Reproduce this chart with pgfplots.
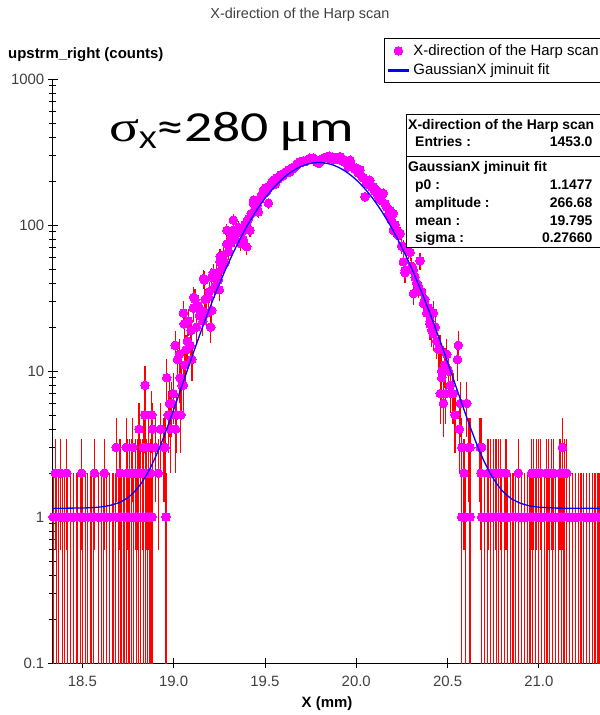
\documentclass[border=0pt]{standalone}
\usepackage{graphicx}
\usepackage{pgfplots}
\pgfplotsset{compat=1.18}
\usepackage{pgfplotstable}
\usepackage{fontspec}
\setmainfont{Liberation Sans}
\newfontfamily\carlito{Carlito}
\newfontfamily\lserif{Liberation Serif}
\definecolor{magpt}{RGB}{255,0,255}
\definecolor{errred}{RGB}{255,0,0}
\definecolor{fitblue}{RGB}{0,0,255}
\definecolor{labgray}{RGB}{64,64,64}
\pgfplotsset{
  dotlegend/.style={legend image code/.code={\draw[##1] plot coordinates {(10.5bp,0bp)};}},
  linelegend/.style={legend image code/.code={\draw[fitblue, line width=3bp] (0bp,0bp) -- (21bp,0bp);}},
}

\pgfplotstableread{
x y e
18.340 1 0.999
18.357 1 0.999
18.371 1 0.999
18.390 1 0.999
18.404 1 0.999
18.420 1 0.999
18.437 1 0.999
18.452 1 0.999
18.470 1 0.999
18.488 1 0.999
18.500 1 0.999
18.515 1 0.999
18.530 1 0.999
18.547 1 0.999
18.560 1 0.999
18.588 1 0.999
18.603 1 0.999
18.617 1 0.999
18.633 1 0.999
18.650 1 0.999
18.668 1 0.999
18.683 1 0.999
18.698 1 0.999
18.712 1 0.999
18.728 1 0.999
18.741 1 0.999
18.755 1 0.999
18.768 1 0.999
18.781 1 0.999
18.795 1 0.999
18.808 1 0.999
18.820 1 0.999
18.833 1 0.999
18.846 1 0.999
18.858 1 0.999
18.870 1 0.999
18.881 1 0.999
18.958 1 0.999
18.352 2 1.41
18.380 2 1.41
18.415 2 1.41
18.497 2 1.41
18.566 2 1.41
18.620 2 1.41
18.706 2 1.41
18.745 2 1.41
18.758 2 1.41
18.770 2 1.41
18.790 2 1.41
18.805 2 1.41
18.818 2 1.41
18.830 2 1.41
18.848 2 1.41
18.862 2 1.41
18.872 2 1.41
18.915 2 1.41
18.685 3 1.73
18.740 3 1.73
18.776 3 1.73
18.834 3 1.73
18.861 3 1.73
18.900 3 1.73
18.945 3 1.73
18.953 3 1.73
18.810 4 2
18.885 4 2
18.930 4 2
18.843 5 2.24
18.880 5 2.24
18.843 8 2.83
18.962 9 3
18.970 5 2.24
18.977 6 2.45
18.984 4 2
18.984 5 2.24
18.990 6 2.45
18.998 7 2.65
19.008 15 3.87
19.010 4 2
19.017 5 2.24
19.020 12 3.46
19.031 13 3.61
19.035 9 3
19.039 5 2.24
19.045 8 2.83
19.053 8 2.83
19.053 25 5
19.058 21 4.58
19.062 11 3.32
19.068 14 3.74
19.075 16 4
19.081 22 4.69
19.090 15 3.87
19.095 19 4.36
19.100 12 3.46
19.108 27 5.2
19.110 32 5.66
19.117 31 5.57
19.125 20 4.47
19.135 28 5.29
19.142 24 4.9
19.154 26 5.1
19.160 22 4.69
19.163 43 6.56
19.168 42 6.48
19.172 31 5.57
19.181 25 5
19.190 32 5.66
19.195 35 5.92
19.203 20 4.47
19.209 26 5.1
19.209 44 6.63
19.217 47 6.86
19.225 38 6.16
19.236 47 6.86
19.245 42 6.48
19.250 36 6
19.254 56 7.48
19.254 61 7.81
19.262 50 7.07
19.272 62 7.87
19.280 55 7.42
19.291 74 8.6
19.291 92 9.59
19.300 66 8.12
19.309 75 8.66
19.315 82 9.06
19.327 92 9.59
19.327 108 10.39
19.335 80 8.94
19.346 92 9.59
19.355 96 9.8
19.364 75 8.66
19.370 88 9.38
19.382 79 8.89
19.390 100 10
19.396 98 9.9
19.400 71 8.43
19.400 105 10.25
19.408 110 10.49
19.418 92 9.59
19.425 120 10.95
19.437 141 11.87
19.437 148 12.17
19.445 128 11.31
19.455 135 11.62
19.464 123 11.09
19.472 150 12.25
19.480 160 12.65
19.491 173 13.15
19.498 165 12.85
19.505 180 13.42
19.512 172 13.11
19.519 141 11.87
19.528 185 13.6
19.536 195 13.96
19.546 203 14.25
19.555 190 13.78
19.563 210 14.49
19.572 205 14.32
19.583 220 14.83
19.592 215 14.66
19.601 220 14.83
19.610 230 15.17
19.620 228 15.1
19.628 238 15.43
19.637 231 15.2
19.646 245 15.65
19.656 244 15.62
19.664 250 15.81
19.672 258 16.06
19.680 262 16.19
19.692 271 16.46
19.700 268 16.37
19.710 275 16.58
19.720 272 16.49
19.729 278 16.67
19.738 282 16.79
19.746 287 16.94
19.755 283 16.82
19.765 287 16.94
19.775 280 16.73
19.785 268 16.37
19.795 265 16.28
19.805 275 16.58
19.815 285 16.88
19.825 290 17.03
19.838 294 17.15
19.845 288 16.97
19.852 296 17.2
19.860 285 16.88
19.868 292 17.09
19.876 280 16.73
19.885 288 16.97
19.893 282 16.79
19.902 290 17.03
19.911 294 17.15
19.911 287 16.94
19.920 276 16.61
19.928 282 16.79
19.937 270 16.43
19.945 265 16.28
19.952 272 16.49
19.957 250 15.81
19.966 271 16.46
19.966 278 16.67
19.975 255 15.97
19.985 248 15.75
19.993 240 15.49
20.002 245 15.65
20.010 228 15.1
20.021 238 15.43
20.030 215 14.66
20.040 210 14.49
20.048 156 12.49
20.055 198 14.07
20.065 190 13.78
20.075 203 14.25
20.084 182 13.49
20.094 183 13.53
20.102 170 13.04
20.112 173 13.15
20.120 158 12.57
20.130 150 12.25
20.140 160 12.65
20.148 165 12.85
20.158 140 11.83
20.168 132 11.49
20.176 118 10.86
20.185 126 11.22
20.192 108 10.39
20.203 92 9.59
20.203 120 10.95
20.212 100 10
20.222 90 9.49
20.231 85 9.22
20.240 88 9.38
20.248 72 8.49
20.258 71 8.43
20.258 56 7.48
20.267 49 7
20.267 47 6.86
20.277 67 8.19
20.285 67 8.19
20.295 65 8.06
20.304 52 7.21
20.313 34 5.83
20.313 49 7
20.322 44 6.63
20.331 40 6.32
20.340 38 6.16
20.349 57 7.55
20.358 35 5.92
20.368 29 5.39
20.376 31 5.57
20.386 25 5
20.395 27 5.2
20.404 21 4.58
20.404 22 4.69
20.413 19 4.36
20.422 25 5
20.422 18 4.24
20.432 20 4.47
20.440 16 4
20.450 14 3.74
20.459 14 3.74
20.460 7 2.65
20.468 9 3
20.468 10 3.16
20.477 6 2.45
20.486 11 3.32
20.490 7 2.65
20.496 13 3.61
20.505 10 3.16
20.514 8 2.83
20.525 7 2.65
20.530 7 2.65
20.541 5 2.24
20.554 12 3.46
20.559 15 3.87
20.565 4 2
20.570 6 2.45
20.605 6 2.45
20.578 3 1.73
20.614 3 1.73
20.623 3 1.73
20.678 3 1.73
20.687 3 1.73
21.129 3 1.73
20.590 2 1.41
20.683 2 1.41
20.722 2 1.41
20.735 2 1.41
20.750 2 1.41
20.765 2 1.41
20.780 2 1.41
20.790 2 1.41
20.820 2 1.41
20.888 2 1.41
20.960 2 1.41
20.972 2 1.41
20.985 2 1.41
20.998 2 1.41
21.007 2 1.41
21.040 2 1.41
21.055 2 1.41
21.070 2 1.41
21.080 2 1.41
21.116 2 1.41
21.128 2 1.41
21.140 2 1.41
21.153 2 1.41
20.578 1 0.999
20.600 1 0.999
20.623 1 0.999
20.687 1 0.999
20.703 1 0.999
20.718 1 0.999
20.735 1 0.999
20.750 1 0.999
20.766 1 0.999
20.781 1 0.999
20.797 1 0.999
20.812 1 0.999
20.828 1 0.999
20.843 1 0.999
20.858 1 0.999
20.874 1 0.999
20.890 1 0.999
20.905 1 0.999
20.921 1 0.999
20.936 1 0.999
20.952 1 0.999
20.967 1 0.999
20.983 1 0.999
20.998 1 0.999
21.014 1 0.999
21.029 1 0.999
21.045 1 0.999
21.060 1 0.999
21.076 1 0.999
21.091 1 0.999
21.107 1 0.999
21.122 1 0.999
21.138 1 0.999
21.153 1 0.999
21.169 1 0.999
21.184 1 0.999
21.200 1 0.999
21.215 1 0.999
21.231 1 0.999
21.246 1 0.999
21.262 1 0.999
21.277 1 0.999
21.293 1 0.999
21.308 1 0.999
21.324 1 0.999
21.335 1 0.999
}\harp

\begin{document}
\begin{tikzpicture}[x=1bp,y=1bp]
\useasboundingbox (0,0) rectangle (600,715);
\clip (0,0) rectangle (600,715);
\begin{axis}[
  at={(52.8bp,52bp)}, anchor=south west,
  scale only axis, width=547.2bp, height=584bp,
  xmin=18.338, xmax=21.335,
  ymode=log, ymin=0.1, ymax=1000,
  axis lines*=left,
  axis line style={black, line width=0.8bp},
  xtick={18.5,19,19.5,20,20.5,21},
  xticklabels={18.5,19.0,19.5,20.0,20.5,21.0},
  ytick={0.1,1,10,100,1000},
  yticklabels={0.1,1,10,100,1000},
  minor ytick={0.2,0.3,0.4,0.5,0.6,0.7,0.8,0.9,2,3,4,5,6,7,8,9,20,30,40,50,60,70,80,90,200,300,400,500,600,700,800,900},
  tick align=center,
  major tick length=10bp, minor tick length=7bp,
  tick style={black, line width=0.8bp},
  tick label style={font=\fontsize{15}{18}\selectfont, text=labgray},
  xticklabel style={yshift=-5bp},
  clip mode=individual,
  legend cell align=left,
  legend style={at={(0.6053,1.0697)}, anchor=north west, draw=black, line width=0.8bp, fill=white,
    font=\fontsize{15}{18}\selectfont, inner xsep=2bp, inner ysep=3bp, row sep=1bp,
    nodes={inner sep=3bp}},
]
\addplot[only marks, mark=none, forget plot,
  error bars/.cd, y dir=both, y explicit, error mark=none,
  error bar style={draw=errred, line width=1.2bp}]
  table[x=x, y=y, y error=e] {\harp};
\addplot[color=magpt, only marks, mark=*, mark size=4.3bp, mark options={draw=magpt, fill=magpt, line width=0pt}, dotlegend]
  table[x=x, y=y] {\harp};
\addlegendentry{X-direction of the Harp scan}
\addplot[fitblue, line width=1.3bp, mark=none, linelegend]
  coordinates {
(18.338,1.148) (18.5,1.152) (18.55,1.158) (18.6,1.171) (18.65,1.198) (18.7,1.253)
(18.725,1.298) (18.75,1.36) (18.775,1.445) (18.8,1.56) (18.825,1.72) (18.85,1.93)
(18.875,2.20) (18.9,2.57) (18.92,2.94) (18.94,3.39) (18.96,3.95) (18.98,4.62)
(19.00,5.44) (19.02,6.41) (19.04,7.58) (19.06,8.96) (19.08,10.6) (19.10,12.5)
(19.12,14.7) (19.14,17.3) (19.16,20.3) (19.18,23.7) (19.20,27.5) (19.22,31.9)
(19.24,36.8) (19.26,42.2) (19.28,48.3) (19.30,54.9) (19.32,62.2) (19.34,70.1)
(19.36,78.6) (19.38,87.7) (19.40,97.3) (19.42,107.5) (19.44,118.2) (19.46,129.2)
(19.48,140.6) (19.50,152.1) (19.52,163.8) (19.54,175.5) (19.56,187.0) (19.58,198.3)
(19.60,209.2) (19.62,219.4) (19.64,229.1) (19.66,237.9) (19.68,245.8) (19.70,252.5)
(19.72,258.2) (19.74,262.6) (19.76,265.7) (19.78,267.4) (19.80,267.8) (19.82,266.7)
(19.84,264.3) (19.86,260.6) (19.88,255.5) (19.90,249.3) (19.92,241.9) (19.94,233.6)
(19.96,224.4) (19.98,214.4) (20.00,203.8) (20.02,192.7) (20.04,181.3) (20.06,169.7)
(20.08,158.0) (20.10,146.4) (20.12,134.9) (20.14,123.7) (20.16,112.8) (20.18,102.4)
(20.20,92.5) (20.22,83.1) (20.24,74.3) (20.26,66.1) (20.28,58.5) (20.30,51.5)
(20.32,45.2) (20.34,39.4) (20.36,34.3) (20.38,29.6) (20.40,25.5) (20.42,21.9)
(20.44,18.7) (20.46,16.0) (20.48,13.6) (20.50,11.5) (20.52,9.74) (20.54,8.24)
(20.56,6.97) (20.58,5.90) (20.60,5.01) (20.62,4.27) (20.64,3.66) (20.66,3.15)
(20.68,2.74) (20.70,2.41) (20.725,2.08) (20.75,1.84) (20.775,1.65) (20.80,1.51)
(20.825,1.41) (20.85,1.33) (20.90,1.24) (20.95,1.19) (21.00,1.168) (21.10,1.150)
(21.335,1.148)
  };
\addlegendentry{GaussianX jminuit fit}
\end{axis}

% title and axis labels
\node[font=\fontsize{14.5}{18}\selectfont, text=labgray] at (300,700) {X-direction of the Harp scan};
\node[anchor=west, font=\bfseries\fontsize{15}{18}\selectfont, inner sep=0] at (8,660) {upstrm\_right (counts)};
\node[font=\bfseries\fontsize{15}{18}\selectfont] at (327,11) {X (mm)};

% statistics box
\fill[white] (406.7,468) rectangle (620,601);
\draw[line width=0.8bp] (406.7,468) rectangle (620,601);
\draw[line width=0.8bp] (406.7,559) -- (620,559);
\begin{scope}[every node/.style={inner sep=0, font=\bfseries\fontsize{14}{16}\selectfont}]
\node[anchor=base west] at (408,585) {X-direction of the Harp scan};
\node[anchor=base west] at (415,568.5) {Entries :};
\node[anchor=base east] at (592.7,568.5) {1453.0};
\node[anchor=base west] at (408,543.5) {GaussianX jminuit fit};
\node[anchor=base west] at (415,525) {p0 :};
\node[anchor=base east] at (592.7,525) {1.1477};
\node[anchor=base west] at (415,507) {amplitude :};
\node[anchor=base east] at (592.7,507) {266.68};
\node[anchor=base west] at (415,489.5) {mean :};
\node[anchor=base east] at (592.7,489.5) {19.795};
\node[anchor=base west] at (415,472) {sigma :};
\node[anchor=base east] at (592.7,472) {0.27660};
\end{scope}

% annotation
\node[anchor=base west, inner sep=0] at (109,573) {\scalebox{1.3}[1]{\fontsize{43}{50}\selectfont{\lserif σ}{\carlito\raisebox{-7bp}{\fontsize{26}{30}\selectfont X}≈280\hspace{8bp}}{\lserif μ}{\carlito m}}};
\end{tikzpicture}
\end{document}
